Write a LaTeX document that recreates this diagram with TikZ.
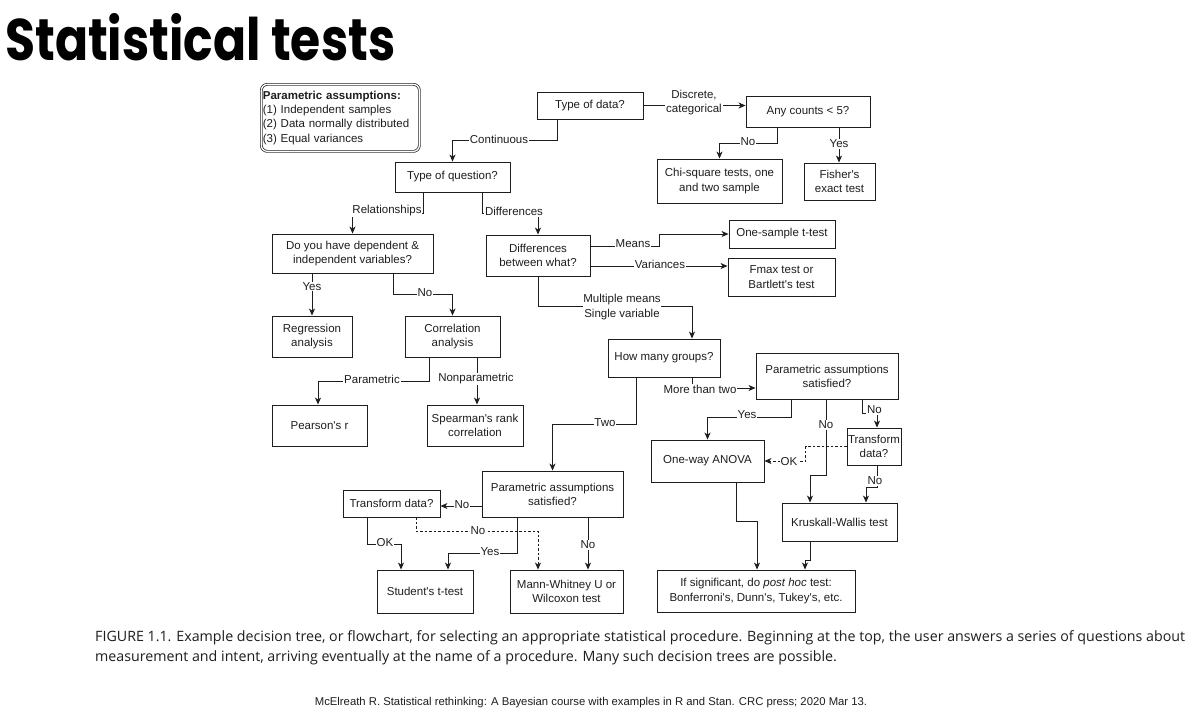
\documentclass[tikz,border=0pt]{standalone}
\usepackage{fontspec}
\setmainfont{Liberation Sans}
\newfontfamily\boxfont{Liberation Sans}
\newfontfamily\titlefont{Poppins}
\newfontfamily\capfont{Open Sans}
\usetikzlibrary{arrows.meta,calc}
\newlength\caplen
\definecolor{ink}{HTML}{1E1E1E}
\newcommand\capone{FIGURE 1.1. Example decision tree, or flowchart, for selecting an appropriate statistical procedure. Beginning at the top, the user answers a series of questions about}
\newcommand\captwo{measurement and intent, arriving eventually at the name of a procedure. Many such decision trees are possible.}
\begin{document}
\settowidth\caplen{\capfont\fontsize{14}{17}\selectfont \capone}%
\pgfmathsetmacro\capscale{1090/\caplen}%
\begin{tikzpicture}[x=1pt,y=-1pt,
  fc/.style={font=\boxfont\fontsize{11.5}{14.2}\selectfont},
  box/.style={draw=ink, line width=0.9pt, fc, align=center, inner sep=1pt, text=ink},
  lbl/.style={fill=white, fc, inner sep=0.8pt, align=center, text=ink},
  arr/.style={draw=ink, line width=0.9pt, -{Stealth[length=7pt,width=6pt,inset=2pt]}},
  dsh/.style={dash pattern=on 2.5pt off 2pt}]
\fill[white] (0,0) rectangle (1200,716);
\useasboundingbox (0,0) rectangle (1200,716);

% title
\node[anchor=north west, inner sep=0] (title) at (5,13)
  {\resizebox{390pt}{47pt}{\titlefont\bfseries Statistical tests}};

% assumptions box
\node[draw=ink, double, double distance=1.3pt, line width=0.7pt, rounded corners=6pt,
  text width=155pt, minimum height=67pt, anchor=north west, inner xsep=1.5pt, inner ysep=2pt,
  align=left, fc, text=ink] (pa) at (261,84)
  {\textbf{Parametric assumptions:}\\(1) Independent samples\\(2) Data normally distributed\\(3) Equal variances};

% boxes
\node[box, minimum width=106pt, minimum height=27pt] (tod) at (590,105.5) {Type of data?};
\node[box, minimum width=124pt, minimum height=31pt] (acnt) at (808,111.5) {Any counts < 5?};
\node[box, minimum width=125pt, minimum height=44pt] (chi) at (719.5,181) {Chi-square tests, one\\and two sample};
\node[box, minimum width=71pt, minimum height=37pt] (fisher) at (839.5,181.5) {Fisher's\\exact test};
\node[box, minimum width=115pt, minimum height=30pt] (toq) at (452.5,177) {Type of question?};
\node[box, minimum width=161pt, minimum height=39pt] (dyh) at (352.5,253.5) {Do you have dependent \&\\independent variables?};
\node[box, minimum width=104pt, minimum height=41pt] (dbw) at (538,255.5) {Differences\\between what?};
\node[box, minimum width=106pt, minimum height=28pt] (ost) at (782,234) {One-sample t-test};
\node[box, minimum width=107pt, minimum height=38pt] (fmax) at (781.5,277) {Fmax test or\\Bartlett's test};
\node[box, minimum width=80pt, minimum height=41pt] (reg) at (312,336.5) {Regression\\analysis};
\node[box, minimum width=95pt, minimum height=41pt] (cor) at (452.5,336.5) {Correlation\\analysis};
\node[box, minimum width=95pt, minimum height=41pt] (pear) at (319.5,425.5) {Pearson's r};
\node[box, minimum width=96pt, minimum height=41pt] (spear) at (475,425.5) {Spearman's rank\\correlation};
\node[box, minimum width=112pt, minimum height=38pt] (hmg) at (664,358) {How many groups?};
\node[box, minimum width=142pt, minimum height=46pt] (pasr) at (827,376) {Parametric assumptions\\satisfied?};
\node[box, minimum width=54pt, minimum height=37pt] (trr) at (874,446.5) {Transform\\data?};
\node[box, minimum width=113pt, minimum height=42pt] (anova) at (707.5,461) {One-way ANOVA};
\node[box, minimum width=115pt, minimum height=38pt] (kw) at (839.5,522) {Kruskall-Wallis test};
\node[box, minimum width=198pt, minimum height=42pt] (posthoc) at (756,591) {If significant, do \textit{post hoc} test:\\Bonferroni's, Dunn's, Tukey's, etc.};
\node[box, minimum width=141pt, minimum height=46pt] (pasl) at (552.5,494) {Parametric assumptions\\satisfied?};
\node[box, minimum width=97pt, minimum height=27pt] (trl) at (391.5,503.5) {Transform data?};
\node[box, minimum width=96pt, minimum height=43pt] (stu) at (425,591.5) {Student's t-test};
\node[box, minimum width=113pt, minimum height=43pt] (mw) at (566.5,591.5) {Mann-Whitney U or\\Wilcoxon test};

% connectors
\draw[arr] ([xshift=-33pt]tod.south) |- ($(toq.north)+(0,-21)$) -- (toq.north);
\draw[arr] (tod.east) -- (tod.east -| acnt.west);
\draw[arr] ([xshift=-31pt]acnt.south) -- ++(0,16) -| (chi.north);
\draw[arr] ([xshift=31pt]acnt.south) -- ([xshift=31pt]acnt.south |- fisher.north);
\draw[arr] ([xshift=-29.5pt]toq.south) -- ++(0,21) -| (dyh.north);
\draw[arr] ([xshift=29.5pt]toq.south) -- ++(0,21) -| (dbw.north);
\draw[arr] ([yshift=9.5pt]dbw.east) -- ($(dbw.east)+(69,-9.5)$) |- (ost.west);
\draw[arr] ([yshift=-10.5pt]dbw.east) -- ([yshift=-10.5pt]dbw.east -| fmax.west);
\draw[arr] (dbw.south) |- ($(hmg.north)+(28,-32)$) -- ([xshift=28pt]hmg.north);
\draw[arr] (dyh.south -| reg.north) -- (reg.north);
\draw[arr] ([xshift=40.5pt]dyh.south) -- ++(0,21) -| (cor.north);
\draw[arr] ([xshift=-23.5pt]cor.south) -- ++(0,24) -| ([xshift=-1.5pt]pear.north);
\draw[arr] ([xshift=24.5pt]cor.south) -- ([xshift=24.5pt]cor.south |- spear.north);
\draw[arr] ([xshift=-28pt]hmg.south) -- ++(0,47) -| (pasl.north);
\draw[arr] ([xshift=28pt]hmg.south) |- ([yshift=-12pt]pasr.west);
\draw[arr] ([xshift=-36pt]pasr.south) -- ++(0,18) -| (anova.north);
\draw[arr] ([xshift=-1pt]pasr.south) -- ++(0,76) -| ([xshift=-29.5pt]kw.north);
\draw[arr] ([xshift=35pt]pasr.south) -- ++(0,14) -| ([xshift=3pt]trr.north);
\draw[arr, dsh] (trr.west) -- ($(trr.west)+(-41,0)$) |- (anova.east);
\draw[arr] ([xshift=3pt]trr.south) -- ++(0,22) -| ([xshift=26.5pt]kw.north);
\draw[arr] ([xshift=28.5pt]anova.south) -- ++(0,39) -| ([xshift=1pt]posthoc.north);
\draw[arr] ([xshift=-29.5pt]kw.south) -- ++(0,19) -| ([xshift=49pt]posthoc.north);
\draw[arr] ([yshift=-12pt]pasl.west) -- ([yshift=-12pt]pasl.west -| trl.east);
\draw[arr] ([xshift=-24.5pt]trl.south) -- ++(0,27) -| ([xshift=-24pt]stu.north);
\draw[arr, dsh] ([xshift=24.5pt]trl.south) -- ++(0,14) -| ([xshift=-28.5pt]mw.north);
\draw[arr] ([xshift=-35.5pt]pasl.south) -- ++(0,36) -| ([xshift=23pt]stu.north);
\draw[arr] ([xshift=35.5pt]pasl.south) -- ([xshift=35.5pt]pasl.south |- mw.north);

% connector labels
\node[lbl] at (499,139) {Continuous};
\node[lbl] at (694,102.5) {Discrete,\\categorical};
\node[lbl] at (748,141.5) {No};
\node[lbl] at (839,144) {Yes};
\node[lbl] at (387,211) {Relationships};
\node[lbl] at (514,211.5) {Differences};
\node[lbl] at (633,243.5) {Means};
\node[lbl] at (660,264.5) {Variances};
\node[lbl] at (622,307) {Multiple means\\Single variable};
\node[lbl] at (312,286.5) {Yes};
\node[lbl] at (425,292.5) {No};
\node[lbl] at (372,379) {Parametric};
\node[lbl] at (476,379) {Nonparametric};
\node[lbl] at (605,423) {Two};
\node[lbl] at (700,389.5) {More than two};
\node[lbl] at (747,414.5) {Yes};
\node[lbl] at (826,425) {No};
\node[lbl] at (874.5,410) {No};
\node[lbl] at (789,461.5) {OK};
\node[lbl] at (875,481) {No};
\node[lbl] at (462,505) {No};
\node[lbl] at (385,543) {OK};
\node[lbl] at (478,530.5) {No};
\node[lbl] at (490,552) {Yes};
\node[lbl] at (588,545) {No};

% caption
\node[anchor=base west, inner sep=0, scale=\capscale, text=ink] (cap1) at (95,641)
  {\capfont\fontsize{14}{17}\selectfont \capone};
\node[anchor=base west, inner sep=0, scale=\capscale, text=ink] (cap2) at (95,661)
  {\capfont\fontsize{14}{17}\selectfont \captwo};
\node[anchor=base, inner sep=0, text=ink] (cite) at (591,705)
  {\boxfont\fontsize{11.3}{13}\selectfont McElreath R. Statistical rethinking: A Bayesian course with examples in R and Stan. CRC press; 2020 Mar 13.};
\end{tikzpicture}
\end{document}
